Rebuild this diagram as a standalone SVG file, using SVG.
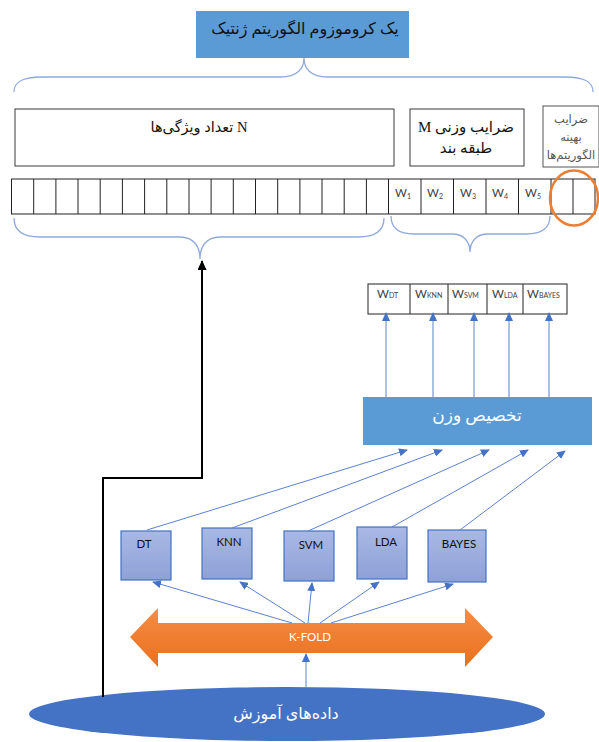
<svg xmlns="http://www.w3.org/2000/svg" width="599" height="742" viewBox="0 0 599 742">
<style>
.fa{font-family:'Liberation Serif','DejaVu Sans',sans-serif;direction:rtl;}
.lat{font-family:Lato,'Open Sans',sans-serif;}
.box{fill:#fff;stroke:#3a3a3a;stroke-width:1;}
.cell{fill:none;stroke:#222;stroke-width:1;}
.brace{fill:none;stroke:#8eaadb;stroke-width:1.3;}
.conn{fill:none;stroke:#5b82cf;stroke-width:1;}
.clf{fill:url(#gclf);stroke:#4472c4;stroke-width:1.2;}
.wl{font-size:11.5px;fill:#404040;}
.ws{font-size:7px;}
.cl{font-size:11.5px;fill:#111;}
</style>
<defs>
<linearGradient id="gclf" x1="0" y1="0" x2="0" y2="1">
<stop offset="0" stop-color="#a9b8e4"/><stop offset="1" stop-color="#8ea1d7"/>
</linearGradient>
<linearGradient id="gk" x1="0" y1="0" x2="0" y2="1">
<stop offset="0" stop-color="#f68d44"/><stop offset="1" stop-color="#ea701f"/>
</linearGradient>
<marker id="ab" markerUnits="userSpaceOnUse" markerWidth="9" markerHeight="8" refX="8" refY="4" orient="auto">
<path d="M0,0 L9,4 L0,8 Z" fill="#4472c4"/>
</marker>
<marker id="ak" markerUnits="userSpaceOnUse" markerWidth="10" markerHeight="9" refX="9" refY="4.5" orient="auto-start-reverse">
<path d="M0,0 L10,4.5 L0,9 Z" fill="#000"/>
</marker>
</defs>

<g id="title">
<rect x="196" y="11" width="213" height="47" fill="#5b9bd5"/>
<text class="fa" x="305" y="34" font-size="16" text-anchor="middle" fill="#111">یک کروموزوم الگوریتم ژنتیک</text>
</g>

<g id="braces">
<path class="brace" d="M14,92 C14,82 22,77 42,77 L280,77 C298,77 304,68 304,58 C304,68 310,77 328,77 L565,77 C585,77 593,82 593,92"/>
<path class="brace" d="M14,218 C14,230 22,237 40,237 L180,237 C194,237 200,247 200,259 C200,247 206,237 220,237 L358,237 C376,237 384,230 384,218"/>
<path class="brace" d="M391,216 C391,228 398,234 414,234 L452,234 C464,234 470,242 470,252 C470,242 476,234 488,234 L526,234 C542,234 550,228 550,216"/>
</g>

<g id="features-box">
<rect class="box" x="15" y="109" width="379" height="57"/>
<text class="fa" x="199" y="132" font-size="14.5" text-anchor="middle" fill="#111">N  تعداد ویژگی‌ها</text>
</g>

<g id="weights-box">
<rect class="box" x="410" y="109" width="114" height="57"/>
<text class="fa" x="466" y="132" font-size="15" text-anchor="middle" fill="#111">ضرایب وزنی M</text>
<text class="fa" x="466" y="153" font-size="15" text-anchor="middle" fill="#111">طبقه بند</text>
</g>

<g id="algo-box">
<rect x="543" y="106" width="56" height="61" fill="#fff" stroke="#555" stroke-width="1"/>
<text class="fa" x="571" y="123" font-size="11.5" text-anchor="middle" fill="#555">ضرایب</text>
<text class="fa" x="571" y="141" font-size="11.5" text-anchor="middle" fill="#555">بهینه</text>
<text class="fa" x="571" y="159" font-size="11.5" text-anchor="middle" fill="#555">الگوریتم‌ها</text>
</g>

<g id="chromosome">
<rect class="cell" x="11.5" y="179" width="583.5" height="35"/>
<path class="cell" d="M33.7,179V214M55.9,179V214M78,179V214M100.2,179V214M122.4,179V214M144.6,179V214M166.8,179V214M189,179V214M211.1,179V214M233.3,179V214M255.5,179V214M277.7,179V214M299.9,179V214M322,179V214M344.2,179V214M366.4,179V214M388.5,179V214M421,179V214M453.5,179V214M486,179V214M518.5,179V214M551,179V214M573,179V214"/>
<text class="lat wl" x="395" y="197">W<tspan class="ws" dy="2">1</tspan></text>
<text class="lat wl" x="427" y="197">W<tspan class="ws" dy="2">2</tspan></text>
<text class="lat wl" x="460" y="197">W<tspan class="ws" dy="2">3</tspan></text>
<text class="lat wl" x="492" y="197">W<tspan class="ws" dy="2">4</tspan></text>
<text class="lat wl" x="525" y="197">W<tspan class="ws" dy="2">5</tspan></text>
<ellipse cx="574" cy="198" rx="24" ry="27.5" fill="none" stroke="#ed7d31" stroke-width="2.5"/>
</g>

<g id="weights-row">
<rect class="cell" x="368" y="284" width="199" height="30"/>
<path class="cell" d="M410,284V314M448,284V314M487,284V314M523,284V314"/>
<text class="lat wl" x="377" y="298">W<tspan class="ws">DT</tspan></text>
<text class="lat wl" x="415" y="298">W<tspan class="ws">KNN</tspan></text>
<text class="lat wl" x="452" y="298">W<tspan class="ws">SVM</tspan></text>
<text class="lat wl" x="492" y="298">W<tspan class="ws">LDA</tspan></text>
<text class="lat wl" x="527" y="298">W<tspan class="ws">BAYES</tspan></text>
</g>

<g id="weight-assign">
<rect x="363" y="397" width="229" height="48" fill="#5b9bd5"/>
<text class="fa" x="477" y="421" font-size="17" text-anchor="middle" fill="#fff">تخصیص وزن</text>
</g>

<g id="dt"><rect class="clf" x="121" y="531" width="50" height="49"/><text class="lat cl" x="144" y="548" text-anchor="middle">DT</text></g>
<g id="knn"><rect class="clf" x="202" y="528" width="50" height="51"/><text class="lat cl" x="229" y="546" text-anchor="middle">KNN</text></g>
<g id="svm"><rect class="clf" x="284" y="531" width="50" height="50"/><text class="lat cl" x="311" y="549" text-anchor="middle">SVM</text></g>
<g id="lda"><rect class="clf" x="357" y="527" width="50" height="52"/><text class="lat cl" x="386" y="546" text-anchor="middle">LDA</text></g>
<g id="bayes"><rect class="clf" x="428" y="530" width="58" height="52"/><text class="lat cl" x="459" y="548" text-anchor="middle">BAYES</text></g>

<g id="kfold">
<polygon points="130,637 158,608 158,623 465,623 465,608 493,637 465,667 465,653 158,653 158,667" fill="url(#gk)"/>
<text class="lat" x="310" y="641" font-size="11.5" text-anchor="middle" fill="#fff">K-FOLD</text>
</g>

<g id="training-data">
<ellipse cx="287" cy="714" rx="258" ry="27" fill="#4472c4"/>
<text class="fa" x="286" y="719" font-size="16" text-anchor="middle" fill="#fff">داده‌های آموزش</text>
</g>

<g id="connectors">
<line class="conn" x1="386" y1="397" x2="386" y2="313" marker-end="url(#ab)"/>
<line class="conn" x1="433" y1="397" x2="433" y2="313" marker-end="url(#ab)"/>
<line class="conn" x1="474" y1="397" x2="474" y2="313" marker-end="url(#ab)"/>
<line class="conn" x1="509" y1="397" x2="509" y2="313" marker-end="url(#ab)"/>
<line class="conn" x1="549" y1="397" x2="549" y2="313" marker-end="url(#ab)"/>
<line class="conn" x1="147" y1="530" x2="407" y2="450" marker-end="url(#ab)"/>
<line class="conn" x1="232" y1="528" x2="442" y2="450" marker-end="url(#ab)"/>
<line class="conn" x1="308" y1="531" x2="489" y2="450" marker-end="url(#ab)"/>
<line class="conn" x1="392" y1="527" x2="528" y2="450" marker-end="url(#ab)"/>
<line class="conn" x1="460" y1="530" x2="565" y2="451" marker-end="url(#ab)"/>
<line class="conn" x1="292" y1="623" x2="153" y2="582" marker-end="url(#ab)"/>
<line class="conn" x1="305" y1="623" x2="240" y2="582" marker-end="url(#ab)"/>
<line class="conn" x1="308" y1="623" x2="312" y2="583" marker-end="url(#ab)"/>
<line class="conn" x1="320" y1="623" x2="379" y2="582" marker-end="url(#ab)"/>
<line class="conn" x1="331" y1="623" x2="453" y2="584" marker-end="url(#ab)"/>
<line class="conn" x1="306" y1="687" x2="306" y2="654" marker-end="url(#ab)"/>
<polyline points="202,261 202,478 103,478 103,697" fill="none" stroke="#000" stroke-width="2" marker-start="url(#ak)"/>
</g>
</svg>
